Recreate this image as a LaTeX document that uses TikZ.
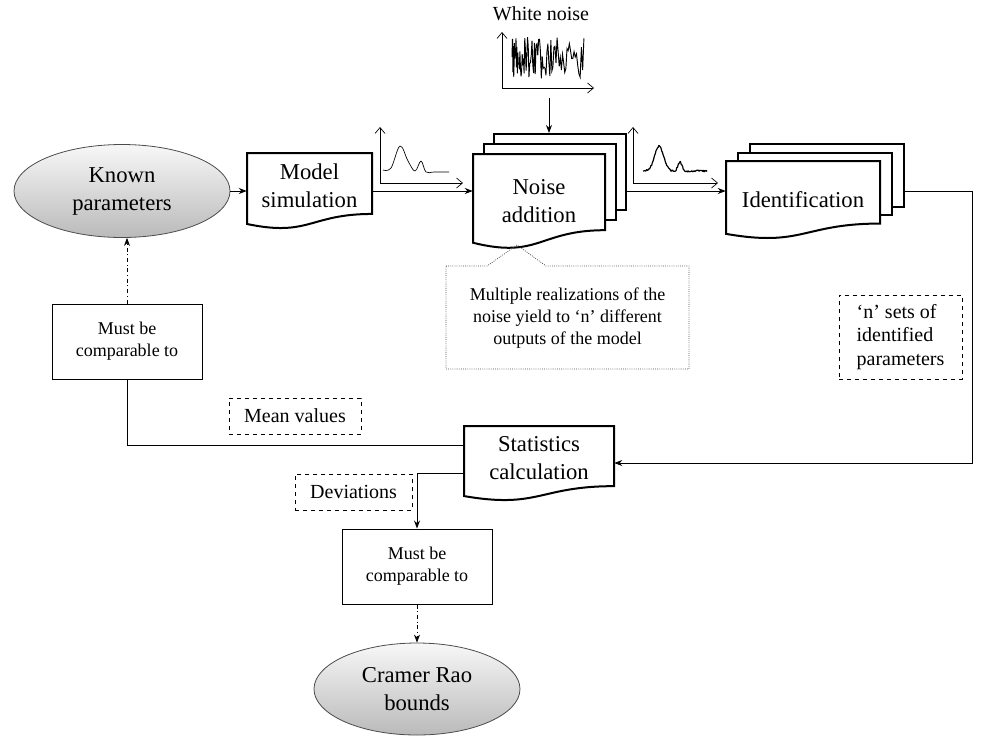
\documentclass[tikz,border=0pt]{standalone}
\usepackage{fontspec}
\setmainfont{Liberation Serif}
\usepackage{tikz}
\usetikzlibrary{arrows.meta,shapes.geometric}

\tikzset{
  bigtext/.style={font=\fontsize{17}{21}\selectfont, align=center},
  midtext/.style={font=\fontsize{15}{17.8}\selectfont},
  smalltext/.style={font=\fontsize{13.5}{16.3}\selectfont, align=center},
  docline/.style={line width=1.5pt, fill=white},
  oval/.style={ellipse, draw=black!70, line width=0.6pt, top color=black!3, bottom color=black!27, bigtext, inner sep=0pt},
  cmpbox/.style={draw, line width=0.75pt, smalltext, inner sep=0pt, minimum width=112.5pt, minimum height=56.25pt},
  tagbox/.style={draw, dashed, line width=0.6pt, midtext, inner sep=0pt, minimum height=27pt},
  arr/.style={-{Stealth[length=6pt,width=4.5pt]}, line width=0.6pt},
  linkdash/.style={dash pattern=on 3pt off 2pt on 0.8pt off 2pt},
  axarrow/.style={{Straight Barb[length=4.5pt,width=7.5pt]}-{Straight Barb[length=4.5pt,width=7.5pt]}, line width=0.5pt},
}

% document shape: name, left, top, width, height, text y, text
\newcommand{\docshape}[7]{%
  \draw[docline] (#2,#3) -- ({#2+#4},#3) -- ({#2+#4},{#3+0.802*#5})
    .. controls ({#2+0.5*#4},{#3+0.802*#5}) and ({#2+0.5*#4},{#3+1.107*#5}) .. (#2,{#3+0.934*#5}) -- cycle;
  \node[bigtext, inner sep=0pt, minimum width={#4*0.75pt}, minimum height={0.8*#5*0.75pt}] (#1) at ({#2+0.5*#4},#6) {#7};}

\begin{document}
\begin{tikzpicture}[x=0.75pt, y=-0.75pt]
  \useasboundingbox (0,0) rectangle (984,747);

  \node[oval, minimum width=162pt, minimum height=69.75pt] (kp) at (122,191) {Known\\parameters};
  \docshape{sim}{247}{153}{125}{76}{186}{Model\\simulation}

  \node[docline, draw, inner sep=0pt, minimum width=99pt, minimum height=57pt] (noise3) at (560,172) {};
  \node[docline, draw, inner sep=0pt, minimum width=99pt, minimum height=57pt] (noise2) at (549.5,182) {};
  \docshape{noise}{473}{154}{132}{95}{201}{Noise\\addition}

  \node[docline, draw, inner sep=0pt, minimum width=115.5pt, minimum height=46.9pt] (ident3) at (827,175.3) {};
  \node[docline, draw, inner sep=0pt, minimum width=115.5pt, minimum height=46.9pt] (ident2) at (815,183.8) {};
  \docshape{ident}{726}{161}{154}{78}{200}{Identification}

  \docshape{stat}{464}{426}{150}{75}{458}{Statistics\\calculation}

  \node[cmpbox] (cmp1) at (127,341.5) {Must be\\comparable to};
  \node[cmpbox] (cmp2) at (417,566.5) {Must be\\comparable to};
  \node[oval, minimum width=154.5pt, minimum height=69pt] (cr) at (417,689) {Cramer Rao\\bounds};

  \node[tagbox, minimum width=99pt] (mean) at (295,416) {Mean values};
  \node[tagbox, minimum width=87.75pt] (dev) at (353.5,492) {Deviations};
  \node[tagbox, minimum width=92.25pt, minimum height=63pt, align=left] (nsets) at (900.5,337) {‘n’ sets of\\identified\\parameters};

  % white noise input
  \node[midtext] (wnlabel) at (541,14) {White noise};
  \draw[axarrow] (502,32) -- (502,88) -- (594,88);
  \pgfmathsetseed{5}
  \draw[line width=0.7pt] plot[domain=0.02:1, samples=90, variable=\t] ({512+72*\t^1.6}, {58+21*rand});
  \coordinate (wnfoot) at (549,98);

  % small output curves
  \draw[axarrow] (380,127) -- (380,183) -- (463,183);
  \draw[line width=0.5pt] plot[smooth, tension=0.6] coordinates {(383,170) (391,168) (400,146) (408,161) (415,171) (421,161) (426,172) (434,172) (449,172)};
  \draw[axarrow] (633,127) -- (633,183) -- (718,183);
  \draw[line width=0.9pt, line join=round] plot[domain=643:707, samples=90, variable=\u]
    (\u, {171 - 25*exp(-min((\u-659)^2/40, 9)) - 9*exp(-min((\u-680)^2/8, 9)) + 0.9*rand});

  % callout
  \draw[densely dotted, draw=black!70, line width=0.6pt] (446,266) -- (487,266) -- (517,245) -- (546,266) -- (689,266) -- (689,369) -- (446,369) -- cycle;
  \node[smalltext] (note) at (567.5,318) {Multiple realizations of the\\noise yield to ‘n’ different\\outputs of the model};

  \draw[arr] (kp.east) -- (kp.east -| sim.west);
  \draw[arr] (sim.east |- kp.east) -- (noise.west |- kp.east);
  \draw[arr] (noise3.east |- kp.east) -- (ident.west |- kp.east);
  \draw[arr] (wnfoot) -- (wnfoot |- noise3.north);
  \draw[arr] (ident3.east |- kp.east) -- ++(67,0) |- ([yshift=-3.75pt]stat.east);
  \draw[line width=0.6pt] ([yshift=9.75pt]stat.west) -| (cmp1.south);
  \draw[arr, linkdash] (cmp1.north) -- (cmp1.north |- kp.south);
  \draw[arr] ([yshift=-11.25pt]stat.west) -| (cmp2.north);
  \draw[arr, linkdash] (cmp2.south) -- (cr.north);
\end{tikzpicture}
\end{document}
